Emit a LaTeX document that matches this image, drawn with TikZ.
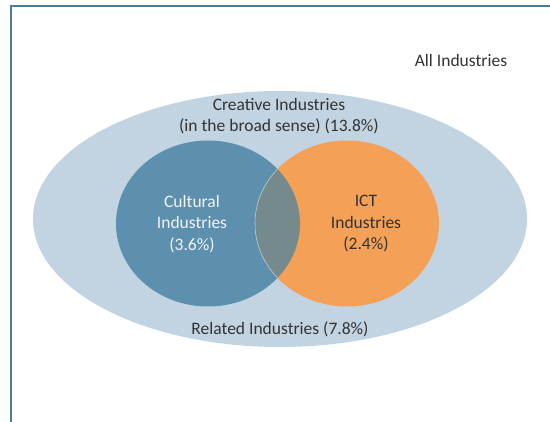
\documentclass[tikz,border=0pt]{standalone}
\usepackage{fontspec}
\setmainfont{Carlito}
\definecolor{frameblue}{HTML}{4A7D9C}
\definecolor{outerfill}{HTML}{C2D4E2}
\definecolor{culturefill}{HTML}{5D8FAF}
\definecolor{ictfill}{HTML}{F4A056}
\definecolor{overlapfill}{HTML}{758A8C}
\definecolor{darktext}{HTML}{333333}
\definecolor{lighttext}{HTML}{F2F4F6}
\begin{document}
\begin{tikzpicture}[x=1pt,y=-1pt,
  lbl/.style={font=\fontsize{17.5}{21.5}\selectfont, text=darktext, align=center, inner sep=0pt},
  wlbl/.style={lbl, text=lighttext}]
\useasboundingbox (0,0) rectangle (550,422);
\fill[white] (0,0) rectangle (550,422);
% frame
\coordinate (fa) at (11,422);
\coordinate (fb) at (11,6);
\coordinate (fc) at (551,6);
\draw[frameblue, line width=2.6pt] (fa) -- (fb) -- (fc);
% outer ellipse
\fill[outerfill] (280,219) ellipse [x radius=247, y radius=128];
% circles
\fill[culturefill] (208,223.5) ellipse [x radius=92, y radius=83];
\fill[ictfill] (347,223.5) ellipse [x radius=92, y radius=83];
\begin{scope}
  \clip (208,223.5) ellipse [x radius=92, y radius=83];
  \fill[overlapfill] (347,223.5) ellipse [x radius=92, y radius=83];
  \draw[white!55!overlapfill, line width=0.6pt] (347,223.5) ellipse [x radius=92, y radius=83];
\end{scope}
% labels
\node[lbl] (all) at (461,60) {All Industries};
\node[lbl] (creative) at (279,116) {Creative Industries\\(in the broad sense) (13.8\%)};
\node[wlbl] (cultural) at (192,224) {Cultural\\Industries\\(3.6\%)};
\node[lbl] (ict) at (366,224) {ICT\\Industries\\(2.4\%)};
\node[lbl] (related) at (280,329) {Related Industries (7.8\%)};
\end{tikzpicture}
\end{document}
